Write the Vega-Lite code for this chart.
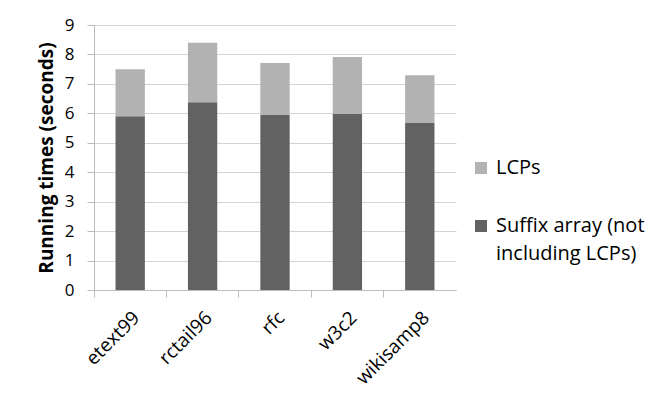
{
  "$schema": "https://vega.github.io/schema/vega-lite/v6.json",
  "autosize": "none",
  "padding": {"left": 94, "top": 25, "right": 194, "bottom": 118},
  "width": 362,
  "height": 265,
  "background": "#ffffff",
  "config": {
    "font": "Open Sans",
    "view": {"stroke": null},
    "axis": {
      "labelFont": "Open Sans",
      "labelColor": "#000000",
      "titleColor": "#000000",
      "gridColor": "#d4d4d4",
      "domainColor": "#bcbcbc",
      "tickColor": "#bcbcbc",
      "tickSize": 7
    }
  },
  "data": {
    "values": [
      {"dataset": "etext99", "series": "Suffix array (not including LCPs)", "seconds": 5.9},
      {"dataset": "etext99", "series": "LCPs", "seconds": 1.6},
      {"dataset": "rctail96", "series": "Suffix array (not including LCPs)", "seconds": 6.38},
      {"dataset": "rctail96", "series": "LCPs", "seconds": 2.02},
      {"dataset": "rfc", "series": "Suffix array (not including LCPs)", "seconds": 5.94},
      {"dataset": "rfc", "series": "LCPs", "seconds": 1.77},
      {"dataset": "w3c2", "series": "Suffix array (not including LCPs)", "seconds": 5.98},
      {"dataset": "w3c2", "series": "LCPs", "seconds": 1.93},
      {"dataset": "wikisamp8", "series": "Suffix array (not including LCPs)", "seconds": 5.67},
      {"dataset": "wikisamp8", "series": "LCPs", "seconds": 1.62}
    ]
  },
  "mark": {"type": "bar", "width": {"band": 0.405}},
  "encoding": {
    "x": {
      "field": "dataset",
      "type": "nominal",
      "sort": null,
      "scale": {"paddingInner": 0, "paddingOuter": 0},
      "axis": {
        "title": null,
        "labelAngle": -45,
        "labelFontSize": 19,
        "labelPadding": 11,
        "bandPosition": 0,
        "ticks": true,
        "domain": true
      }
    },
    "y": {
      "field": "seconds",
      "type": "quantitative",
      "stack": "zero",
      "scale": {"domain": [0, 9], "nice": false},
      "axis": {
        "title": "Running times (seconds)",
        "titleFont": "Open Sans",
        "titleFontSize": 19,
        "titleFontWeight": "bold",
        "titlePadding": 8,
        "values": [0, 1, 2, 3, 4, 5, 6, 7, 8, 9],
        "labelFontSize": 17,
        "labelPadding": 13,
        "domain": true,
        "grid": true
      }
    },
    "color": {
      "field": "series",
      "type": "nominal",
      "scale": {
        "domain": ["LCPs", "Suffix array (not including LCPs)"],
        "range": ["#b2b2b2", "#626262"]
      },
      "legend": {
        "title": null,
        "orient": "none",
        "legendX": 377,
        "legendY": 133,
        "padding": 0,
        "symbolType": "square",
        "symbolSize": 144,
        "symbolStrokeWidth": 0,
        "labelFont": "Open Sans",
        "labelFontSize": 20,
        "labelColor": "#000000",
        "labelLimit": 300,
        "labelOffset": 5,
        "rowPadding": 38,
        "labelExpr": "datum.label == 'LCPs' ? 'LCPs' : ['Suffix array (not', 'including LCPs)']",
        "encode": {
          "labels": {"update": {"lineHeight": {"value": 28}}}
        }
      }
    },
    "order": {"field": "series", "sort": "descending"}
  }
}
